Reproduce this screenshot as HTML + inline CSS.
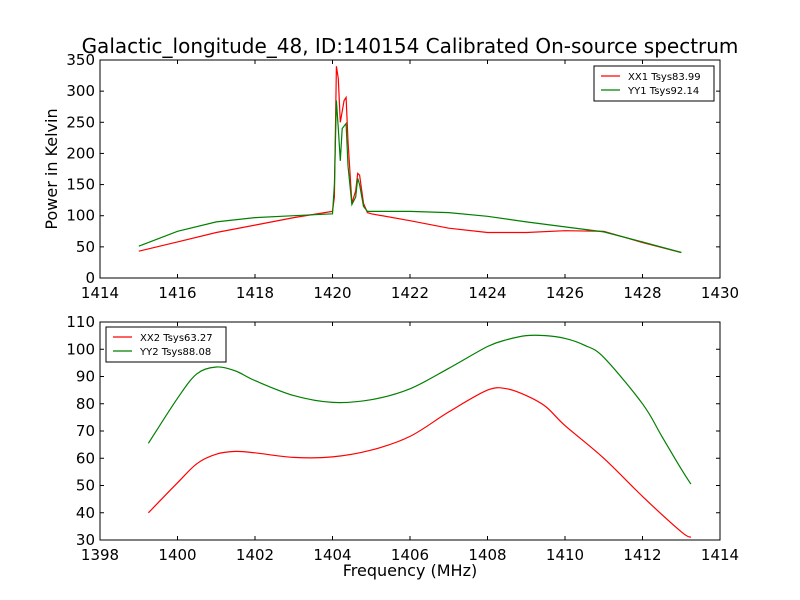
<!DOCTYPE html>
<html><head><meta charset="utf-8"><style>
body{margin:0;background:#fff}
svg{display:block;font-family:"DejaVu Sans","Liberation Sans",sans-serif}
</style></head><body>
<svg id="c" width="800" height="600"></svg>
<script>
const topXTicks=[1414,1416,1418,1420,1422,1424,1426,1428,1430];
const topYTicks=[0,50,100,150,200,250,300,350];
const botXTicks=[1398,1400,1402,1404,1406,1408,1410,1412,1414];
const botYTicks=[30,40,50,60,70,80,90,100,110];
const xx1Freq=[1415,1416,1417,1418,1419,1419.5,1420,1420.05,1420.1,1420.15,1420.2,1420.3,1420.35,1420.4,1420.5,1420.6,1420.65,1420.7,1420.8,1420.9,1421,1422,1423,1424,1425,1426,1427,1428,1429];
const xx1Vals=[43,58,73,85,97,102,107,130,340,320,250,285,290,220,120,140,168,165,120,105,103,92,80,73,73,76,75,57,41];
const yy1Freq=[1415,1416,1417,1418,1419,1420,1420.05,1420.1,1420.15,1420.2,1420.25,1420.35,1420.4,1420.5,1420.6,1420.65,1420.7,1420.8,1420.9,1421,1422,1423,1424,1425,1426,1427,1428,1429];
const yy1Vals=[51,75,90,97,100,103,150,285,240,188,240,248,180,118,130,160,150,115,107,107,107,105,99,90,82,74,58,41];
const xx2Freq=[1399.25,1400,1400.5,1401,1401.5,1402,1403,1404,1405,1406,1407,1408,1408.5,1409,1409.5,1410,1411,1412,1413,1413.25];
const xx2Vals=[40,51,58,61.5,62.5,62,60.3,60.5,63,68,77,85,85.5,83,79,72,60,46,33,31];
const yy2Freq=[1399.25,1400,1400.5,1401,1401.5,1402,1403,1404,1405,1406,1407,1408,1408.5,1409,1409.5,1410,1410.5,1411,1412,1412.5,1413,1413.25];
const yy2Vals=[65.5,82,91,93.5,92,88.5,83,80.5,81.5,85.5,93,101,103.5,105,105,104,101.5,97,80,68,56,50.5];

const NS="http://www.w3.org/2000/svg";
const svg=document.getElementById('c');
function el(t,a,p){const e=document.createElementNS(NS,t);for(const k in a)e.setAttribute(k,a[k]);(p||svg).appendChild(e);return e;}
function txt(s,a,name){const e=el('text',a);e.textContent=s;


return e;}
function smoothPath(P){let d='M'+P[0][0].toFixed(1)+','+P[0][1].toFixed(1);
 for(let i=0;i<P.length-1;i++){const p0=P[i-1]||P[i],p1=P[i],p2=P[i+1],p3=P[i+2]||p2;
  const c1=[p1[0]+(p2[0]-p0[0])/6,p1[1]+(p2[1]-p0[1])/6],c2=[p2[0]-(p3[0]-p1[0])/6,p2[1]-(p3[1]-p1[1])/6];
  d+='C'+c1.map(v=>v.toFixed(1))+' '+c2.map(v=>v.toFixed(1))+' '+p2.map(v=>v.toFixed(1));}
 return d;}
const L=100,R=720;
function panel(id,T,B,x0,x1,y0,y1,xt,yt,series,legend,smooth){
 const sx=v=>L+(v-x0)/(x1-x0)*(R-L), sy=v=>B-(v-y0)/(y1-y0)*(B-T);
 const g=el('g',{});
 
 
 series.forEach(s=>{
  const P=s.f.map((f,i)=>[sx(f),sy(s.v[i])]);
  const d=smooth?smoothPath(P):P.map((p,i)=>(i?'L':'M')+p[0].toFixed(1)+','+p[1].toFixed(1)).join('');
  const p=el('path',{d:d,fill:'none',stroke:s.c,'stroke-width':1.2},g);
  
  
 });
 const fr=el('rect',{x:L,y:T,width:R-L,height:B-T,fill:'none',stroke:'#000'},g);
 
 
 xt.forEach(v=>{const x=sx(v);el('line',{x1:x,x2:x,y1:B,y2:B-4,stroke:'#000'},g);el('line',{x1:x,x2:x,y1:T,y2:T+4,stroke:'#000'},g);
  txt(String(v),{x:x,y:B+20,'font-size':15,'text-anchor':'middle'},id+'-x-tick');});
 yt.forEach(v=>{const y=sy(v);el('line',{x1:L,x2:L+4,y1:y,y2:y,stroke:'#000'},g);el('line',{x1:R,x2:R-4,y1:y,y2:y,stroke:'#000'},g);
  txt(String(v),{x:L-5,y:y+5,'font-size':15,'text-anchor':'end'},id+'-y-tick');});
 const lg=el('g',{});
 
 
 el('rect',{x:legend.x,y:legend.y,width:120,height:35,fill:'#fff',stroke:'#000'},lg);
 series.forEach((s,i)=>{const y=legend.y+10+i*14;
  el('line',{x1:legend.x+7,x2:legend.x+26,y1:y,y2:y,stroke:s.c,'stroke-width':1.2},lg);
  txt(s.label,{x:legend.x+34,y:y+4,'font-size':10},'legend-entry');});
}
panel('top-panel',60,278,1414,1430,0,350,topXTicks,topYTicks,
 [{f:xx1Freq,v:xx1Vals,c:'#ff0000',n:'xx1-line',label:'XX1 Tsys83.99'},{f:yy1Freq,v:yy1Vals,c:'#008000',n:'yy1-line',label:'YY1 Tsys92.14'}],{x:594,y:66},false);
panel('bottom-panel',322,540,1398,1414,30,110,botXTicks,botYTicks,
 [{f:xx2Freq,v:xx2Vals,c:'#ff0000',n:'xx2-line',label:'XX2 Tsys63.27'},{f:yy2Freq,v:yy2Vals,c:'#008000',n:'yy2-line',label:'YY2 Tsys88.08'}],{x:106,y:327},true);
txt('Galactic_longitude_48, ID:140154 Calibrated On-source spectrum',{x:410,y:53,'font-size':20,'text-anchor':'middle'},'chart-title');
txt('Power in Kelvin',{x:0,y:0,'font-size':16,'text-anchor':'middle',transform:'translate(57,169) rotate(-90)'},'y-axis-title');
txt('Frequency (MHz)',{x:410,y:576,'font-size':16,'text-anchor':'middle'},'x-axis-title');
</script></body></html>
